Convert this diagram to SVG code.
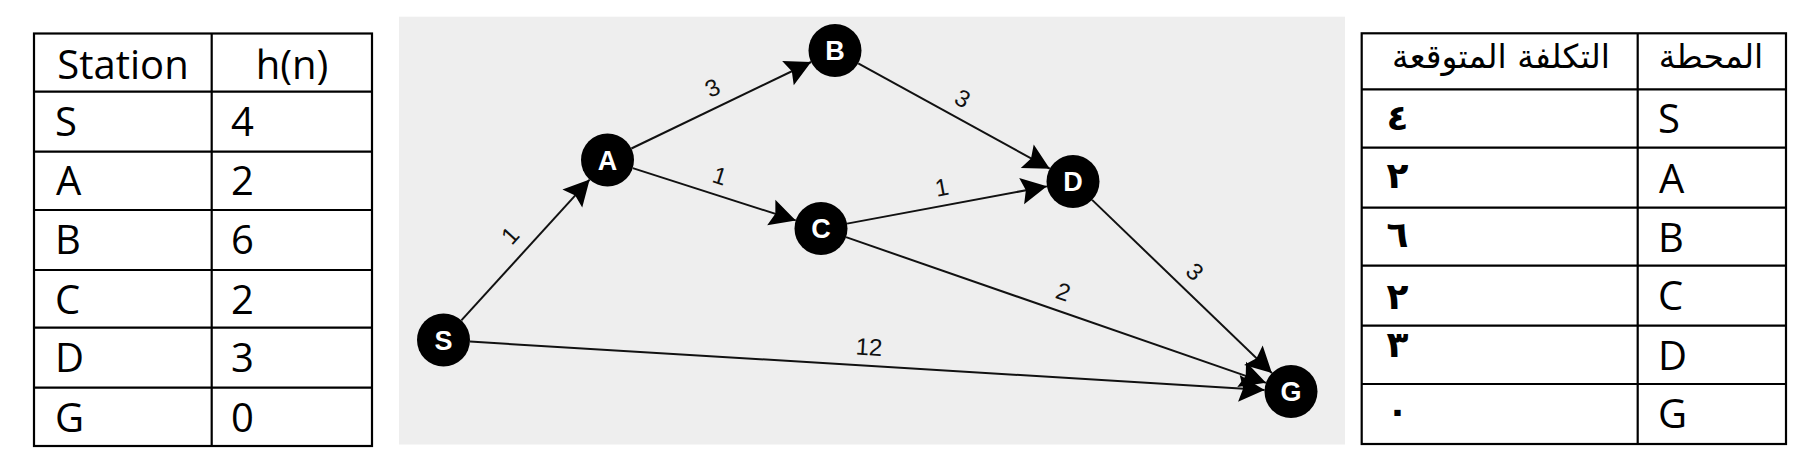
<svg xmlns="http://www.w3.org/2000/svg" width="1814" height="468" viewBox="0 0 1814 468">
<style>
.tbl{fill:none;stroke:#000;stroke-width:2.2}
.tl{font-family:"Open Sans","Noto Sans","DejaVu Sans",sans-serif;font-size:40px;fill:#000}
.ar{font-family:"DejaVu Sans","Noto Sans",sans-serif;font-size:33px;fill:#000;text-anchor:middle}
.ad{font-family:"DejaVu Sans","Noto Sans",sans-serif;font-size:36px;font-weight:bold;fill:#000;text-anchor:middle}
.edge{stroke:#111;stroke-width:2;fill:none;marker-end:url(#arr)}
.el{font-family:"Liberation Sans",Arial,sans-serif;font-size:24px;fill:#111;text-anchor:middle}
.node circle{fill:#000}
.node text{font-family:"Liberation Sans",Arial,sans-serif;font-size:27px;font-weight:bold;fill:#fff;text-anchor:middle}
</style>
<defs>
<marker id="arr" markerUnits="userSpaceOnUse" markerWidth="30" markerHeight="30" viewBox="-26 -14 28 28" refX="0" refY="0" orient="auto">
<path d="M0,0 L-24,-12.5 L-20,0 L-24,12.5 Z" fill="#000"/>
</marker>
</defs>
<rect width="1814" height="468" fill="#fff"/>

<g id="table-left">
<rect class="tbl" x="34" y="33.5" width="338" height="412.5"/>
<line class="tbl" x1="211.7" y1="33.5" x2="211.7" y2="446"/>
<line class="tbl" x1="34" y1="91.7" x2="372" y2="91.7"/>
<line class="tbl" x1="34" y1="151.7" x2="372" y2="151.7"/>
<line class="tbl" x1="34" y1="210" x2="372" y2="210"/>
<line class="tbl" x1="34" y1="270" x2="372" y2="270"/>
<line class="tbl" x1="34" y1="327.7" x2="372" y2="327.7"/>
<line class="tbl" x1="34" y1="387.7" x2="372" y2="387.7"/>
<text class="tl" x="123" y="79" text-anchor="middle">Station</text>
<text class="tl" x="292" y="79" text-anchor="middle">h(n)</text>
<text class="tl" x="55" y="136">S</text><text class="tl" x="231" y="136">4</text>
<text class="tl" x="56" y="195">A</text><text class="tl" x="231" y="195">2</text>
<text class="tl" x="55" y="254">B</text><text class="tl" x="231" y="254">6</text>
<text class="tl" x="55" y="313.5">C</text><text class="tl" x="231" y="313.5">2</text>
<text class="tl" x="55" y="371.5">D</text><text class="tl" x="231" y="371.5">3</text>
<text class="tl" x="55" y="431.5">G</text><text class="tl" x="231" y="431.5">0</text>
</g>

<rect id="panel" x="399" y="16.7" width="946" height="427.8" fill="#eeeeee"/>

<g id="connectors">
<line class="edge" x1="461.35" y1="320.41" x2="589.65" y2="179.59"/>
<line class="edge" x1="631.38" y1="148.51" x2="811.12" y2="61.99"/>
<line class="edge" x1="632.74" y1="168.10" x2="795.76" y2="220.40"/>
<line class="edge" x1="858.21" y1="63.28" x2="1049.79" y2="168.72"/>
<line class="edge" x1="847.06" y1="223.64" x2="1046.94" y2="186.36"/>
<line class="edge" x1="846.03" y1="237.18" x2="1265.97" y2="382.82"/>
<line class="edge" x1="1092.09" y1="199.89" x2="1271.91" y2="373.11"/>
<line class="edge" x1="469.95" y1="341.61" x2="1264.55" y2="389.89"/>
<text class="el" x="510" y="235.5" dy="0.35em" transform="rotate(-47.7 510 235.5)">1</text>
<text class="el" x="712.3" y="87.7" dy="0.35em" transform="rotate(-25.7 712.3 87.7)">3</text>
<text class="el" x="720" y="175.7" dy="0.35em" transform="rotate(17.8 720 175.7)">1</text>
<text class="el" x="962.7" y="98.3" dy="0.35em" transform="rotate(28.8 962.7 98.3)">3</text>
<text class="el" x="941.7" y="187.3" dy="0.35em" transform="rotate(-10.6 941.7 187.3)">1</text>
<text class="el" x="1063.3" y="291.7" dy="0.35em" transform="rotate(19.1 1063.3 291.7)">2</text>
<text class="el" x="1195" y="271.7" dy="0.35em" transform="rotate(43.9 1195 271.7)">3</text>
<text class="el" x="869" y="347" dy="0.35em" transform="rotate(3.5 869 347)">12</text>
</g>

<g id="node-S" class="node"><circle cx="443.5" cy="340" r="26.5"/><text x="443.5" y="349.5">S</text></g>
<g id="node-A" class="node"><circle cx="607.5" cy="160" r="26.5"/><text x="607.5" y="169.5">A</text></g>
<g id="node-B" class="node"><circle cx="835" cy="50.5" r="26.5"/><text x="835" y="60">B</text></g>
<g id="node-C" class="node"><circle cx="821" cy="228.5" r="26.5"/><text x="821" y="238">C</text></g>
<g id="node-D" class="node"><circle cx="1073" cy="181.5" r="26.5"/><text x="1073" y="191">D</text></g>
<g id="node-G" class="node"><circle cx="1291" cy="391.5" r="26.5"/><text x="1291" y="401">G</text></g>

<g id="table-right">
<rect class="tbl" x="1361.7" y="33.3" width="424.3" height="410.7"/>
<line class="tbl" x1="1637.7" y1="33.3" x2="1637.7" y2="444"/>
<line class="tbl" x1="1361.7" y1="89.3" x2="1786" y2="89.3"/>
<line class="tbl" x1="1361.7" y1="147.7" x2="1786" y2="147.7"/>
<line class="tbl" x1="1361.7" y1="207.7" x2="1786" y2="207.7"/>
<line class="tbl" x1="1361.7" y1="265.7" x2="1786" y2="265.7"/>
<line class="tbl" x1="1361.7" y1="325.7" x2="1786" y2="325.7"/>
<line class="tbl" x1="1361.7" y1="384" x2="1786" y2="384"/>
<text class="ar" x="1501" y="68">التكلفة المتوقعة</text>
<text class="ar" x="1711" y="68">المحطة</text>
<text class="ad" x="1397.5" y="130">٤</text><text class="tl" x="1658" y="133.3">S</text>
<text class="ad" x="1397.5" y="188">٢</text><text class="tl" x="1659" y="192.7">A</text>
<text class="ad" x="1397.5" y="247">٦</text><text class="tl" x="1658" y="251.7">B</text>
<text class="ad" x="1397.5" y="309">٢</text><text class="tl" x="1658" y="310">C</text>
<text class="ad" x="1397.5" y="357">٣</text><text class="tl" x="1658" y="370">D</text>
<text class="ad" x="1397.5" y="423">٠</text><text class="tl" x="1658" y="427.7">G</text>
</g>
</svg>
